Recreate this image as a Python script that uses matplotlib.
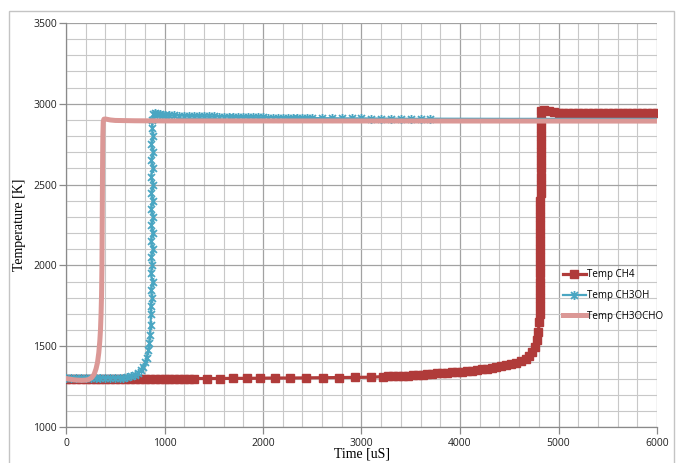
import matplotlib
matplotlib.use("Agg")
import matplotlib.pyplot as plt
from matplotlib.path import Path
from matplotlib.patches import Rectangle
from matplotlib.ticker import MultipleLocator

# ---------------- data ----------------
# Temp CH4 : dense start, sparse middle, dense ignition region
ch4_t = [0, 50, 100, 150, 200, 250, 300, 350, 400, 450, 500, 550, 600, 650,
         700, 750, 800, 850, 900, 950, 1000, 1050, 1100, 1150, 1200, 1250, 1300,
         1430, 1565, 1700, 1835, 1970, 2120, 2270, 2440, 2610, 2775, 2935, 3095,
         3220, 3270, 3320, 3370, 3420, 3470, 3520, 3570, 3620, 3670, 3720, 3770,
         3820, 3870, 3920, 3970, 4020, 4070, 4120, 4170, 4220, 4270, 4320, 4370,
         4420, 4470, 4520, 4570, 4620, 4670, 4700, 4730, 4760, 4780, 4795, 4805,
         4810, 4811, 4811, 4812, 4812, 4813, 4813, 4814, 4814, 4815, 4815, 4816,
         4816, 4817, 4817, 4818, 4818, 4819, 4819, 4820, 4820, 4821, 4821, 4822,
         4823, 4825, 4850, 4900, 4950, 5000, 5050, 5100, 5150, 5200, 5250, 5300, 5350,
         5400, 5450, 5500, 5550, 5600, 5650, 5700, 5750, 5800, 5850, 5900, 5950, 6000]
ch4_T = [1300, 1300, 1300, 1300, 1300, 1300, 1300, 1300, 1300, 1300, 1300, 1300, 1300, 1300,
         1300, 1300, 1300, 1300, 1300, 1300, 1300, 1300, 1300, 1300, 1300, 1300, 1300,
         1300, 1300, 1301, 1301, 1302, 1303, 1303, 1304, 1305, 1306, 1307, 1308,
         1312, 1313, 1314, 1315, 1317, 1318, 1320, 1322, 1324, 1327, 1330, 1332,
         1334, 1336, 1338, 1340, 1343, 1345, 1348, 1352, 1356, 1360, 1365, 1371,
         1378, 1385, 1392, 1399, 1406, 1420, 1438, 1462, 1497, 1540, 1590, 1650,
         1700, 1750, 1800, 1850, 1900, 1950, 2000, 2050, 2100, 2150, 2200, 2250,
         2300, 2350, 2400, 2450, 2500, 2550, 2600, 2650, 2700, 2750, 2800, 2850,
         2900, 2955, 2960, 2955, 2950, 2946, 2944, 2942, 2940, 2940, 2940, 2940, 2940,
         2940, 2940, 2940, 2940, 2940, 2940, 2940, 2940, 2940, 2940, 2940, 2940, 2940]

# Temp CH3OH : marked samples up to 3700 us, then plain tail
ch3oh_t = [0, 50, 100, 150, 200, 250, 300, 350, 400, 450, 500, 550,
           580, 620, 660, 700, 730, 760, 785, 805, 820, 835, 845, 852, 858, 862,
           858, 876, 862, 880, 860, 878, 864, 882, 861, 879, 866, 884, 862, 880,
           867, 885, 863, 881, 868, 884, 866, 882, 872, 878,
           885, 900, 925, 950, 975, 1000, 1050, 1100, 1150, 1200, 1250, 1300, 1350, 1400,
           1450, 1500, 1550, 1600, 1650, 1700, 1750, 1800, 1850, 1900, 1950, 2000,
           2050, 2100, 2150, 2200, 2250, 2300, 2350, 2400, 2450, 2500,
           2600, 2700, 2800, 2900, 3000, 3100, 3200, 3300, 3400, 3500, 3600, 3700]
ch3oh_T = [1303, 1303, 1303, 1303, 1303, 1303, 1303, 1303, 1303, 1303, 1303, 1303,
           1305, 1308, 1313, 1322, 1333, 1350, 1372, 1400, 1430, 1475, 1520, 1570, 1630, 1700,
           1750, 1800, 1850, 1900, 1950, 2000, 2050, 2100, 2150, 2200, 2250, 2300, 2350, 2400,
           2450, 2500, 2550, 2600, 2650, 2700, 2750, 2800, 2850, 2900,
           2935, 2940, 2937, 2935, 2932, 2930, 2929, 2928, 2927, 2926, 2925, 2924, 2923, 2923,
           2922, 2922, 2921, 2920, 2920, 2919, 2918, 2918, 2917, 2917, 2916, 2916,
           2915, 2915, 2914, 2914, 2913, 2913, 2913, 2912, 2912, 2912,
           2911, 2911, 2910, 2910, 2910, 2909, 2909, 2908, 2908, 2907, 2907, 2906]
ch3oh_tail_t = [3700, 4500, 5000, 6000]
ch3oh_tail_T = [2906, 2905, 2905, 2905]

# Temp CH3OCHO
ch3ocho_t = [0, 40, 80, 120, 160, 200, 230, 260, 285, 305, 320, 333, 343, 350,
             356, 361, 365, 368, 371, 374, 378, 385, 400, 450, 500, 700, 1000, 6000]
ch3ocho_T = [1300, 1296, 1292, 1290, 1289, 1290, 1294, 1305, 1325, 1360, 1400, 1460,
             1530, 1600, 1700, 1820, 2000, 2300, 2600, 2800, 2890, 2905, 2906, 2900,
             2897, 2895, 2894, 2893]

labels = ["Temp CH4", "Temp CH3OH", "Temp CH3OCHO"]
colors = ["#B03B3A", "#4AA6C2", "#DB9896"]

# ---------------- figure ----------------
W, H = 678, 463
fig = plt.figure(figsize=(W / 100, H / 100), dpi=100)
fig.patch.set_facecolor("white")

# chart-area frame
fig.patches.append(Rectangle((9 / W, -0.05), (674 - 9) / W, 1 - 11 / H + 0.05,
                             transform=fig.transFigure, fill=False,
                             edgecolor="#C4C4C4", lw=1.0, zorder=0))

ax = fig.add_axes([66 / W, 1 - 427 / H, (657 - 66) / W, (427 - 23) / H])

star = Path([(-1, -1), (1, 1), (-1, 1), (1, -1), (0, -1.3), (0, 1.3)],
            [Path.MOVETO, Path.LINETO, Path.MOVETO, Path.LINETO, Path.MOVETO, Path.LINETO])

ax.plot(ch4_t, ch4_T, color=colors[0], lw=2.3, marker="s", ms=6.4,
        mec=colors[0], mfc=colors[0], label=labels[0], zorder=3)
ax.plot(ch3oh_tail_t, ch3oh_tail_T, color=colors[1], lw=2.0, zorder=4)
ax.plot(ch3oh_t, ch3oh_T, color=colors[1], lw=1.6, marker=star, ms=6.5,
        mew=1.3, mec=colors[1], label=labels[1], zorder=4)
ax.plot(ch3ocho_t, ch3ocho_T, color=colors[2], lw=3.6, label=labels[2], zorder=5,
        solid_joinstyle="round")

ax.set_xlim(0, 6000)
ax.set_ylim(1000, 3500)
ax.xaxis.set_major_locator(MultipleLocator(1000))
ax.xaxis.set_minor_locator(MultipleLocator(200))
ax.yaxis.set_major_locator(MultipleLocator(500))
ax.yaxis.set_minor_locator(MultipleLocator(100))

ax.grid(which="major", color="#A2A2A2", lw=0.9)
ax.grid(which="minor", color="#C8C8C8", lw=0.8)
ax.set_axisbelow(True)

for s in ["top", "right"]:
    ax.spines[s].set_visible(False)
for s in ["left", "bottom"]:
    ax.spines[s].set_color("#8A8A8A")
    ax.spines[s].set_linewidth(0.9)

ax.tick_params(which="major", direction="out", length=5, width=0.9, color="#8A8A8A",
               labelsize=7.5, labelcolor="#222222")
ax.tick_params(which="minor", length=0)
ax.tick_params(axis="y", pad=1.5)
ax.tick_params(axis="x", pad=3)
for lab in ax.get_xticklabels() + ax.get_yticklabels():
    lab.set_family("Open Sans")

ax.set_ylabel("Temperature [K]", family="Liberation Serif", fontsize=10, labelpad=5)
ax.set_xlabel("Time [uS]", family="Liberation Serif", fontsize=10)
ax.xaxis.set_label_coords(0.5, -0.051)

leg = ax.legend(loc="upper left", bbox_to_anchor=(0.834, 0.40), frameon=False,
                prop={"family": "Open Sans", "size": 7}, handlelength=2.4,
                handletextpad=0.1, labelspacing=1.0, borderaxespad=0)
leg.set_zorder(10)

fig.savefig("out.png", dpi=100, facecolor="white")
